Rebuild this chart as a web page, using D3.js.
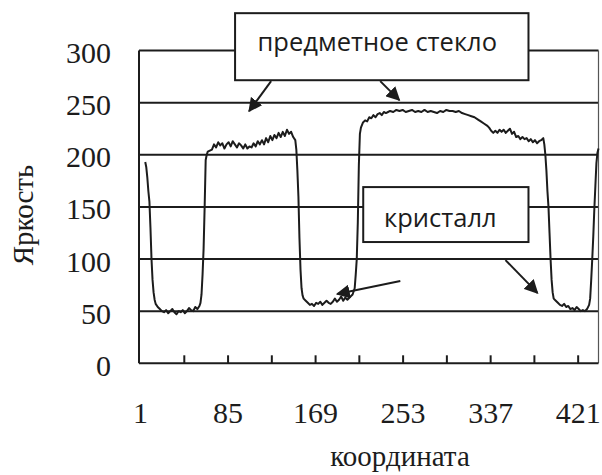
<!DOCTYPE html>
<html><head><meta charset="utf-8">
<script src="https://cdn.jsdelivr.net/npm/d3@7/dist/d3.min.js"></script>
<style>body{margin:0;background:#fff} svg{display:block}</style>
</head><body><svg id="c" width="602" height="475"></svg>
<script>
// ---- data ----
const coord = [
  6,7,8,9,10,11,12,13,14,15,16,18,
  20,22,24,26,28,30,32,34,36,38,40,42,44,46,48,50,52,54,56,58,
  59,60,61,62,63,64,65,66,
  68,70,72,74,76,78,80,82,84,86,88,90,92,94,96,98,100,102,104,106,108,110,112,114,116,118,120,122,124,126,128,130,132,134,136,138,140,142,144,146,148,150,151,
  152,153,154,155,156,157,158,
  160,162,164,166,168,170,172,174,176,178,180,182,184,186,188,190,192,194,196,198,200,203,205,207,
  208,209,210,211,212,213,215,
  217,219,221,223,225,227,229,231,233,235,237,239,241,244,247,250,253,256,259,262,265,268,271,274,277,280,283,286,289,292,295,298,
  301,304,307,310,313,316,319,322,325,328,331,334,336,338,340,342,344,346,348,350,352,354,356,358,360,362,364,366,368,370,372,374,376,378,380,382,384,386,388,389,
  390,391,392,393,394,395,396,397,398,
  400,402,404,406,408,410,412,414,416,418,420,422,424,426,428,430,432,
  433,434,435,436,437,438,439,440,441
];
const brightness = [
  193,188,178,165,155,130,100,80,68,61,57,54,
  52,50,49,51,48,50,52,49,47,50,49,51,48,50,53,51,50,54,52,55,
  58,66,85,110,150,195,200,203,
  204,205,210,207,212,209,211,206,210,212,208,213,210,207,211,209,206,210,206,208,207,211,208,213,210,214,210,216,212,218,214,219,216,221,217,222,218,224,220,222,217,214,205,
  185,160,120,90,72,65,62,
  60,58,56,57,55,58,57,59,56,58,60,58,57,59,62,59,61,64,60,63,61,64,66,72,
  85,100,135,190,220,226,231,
  233,232,236,235,238,236,239,240,238,241,240,241,242,241,243,242,243,241,242,243,241,242,241,243,241,242,241,240,242,241,243,242,
  242,241,242,240,239,238,237,236,234,232,230,228,226,223,221,223,221,224,222,224,221,223,225,220,222,217,218,215,217,215,216,213,215,212,214,211,213,214,216,210,
  200,185,165,150,125,100,80,68,62,
  60,58,56,55,57,54,55,52,53,51,54,52,50,51,50,52,56,
  62,80,100,122,148,170,192,202,206
];
const yTicks = [0, 50, 100, 150, 200, 250, 300];
const xLabelTicks = [1, 85, 169, 253, 337, 421];
const xMarkTicks = [43, 85, 127, 169, 211, 253, 295, 337, 379, 421];
const xTitle = "координата";
const yTitle = "Яркость";
// annotation boxes & arrows, in data units
const noteText = ["предметное стекло", "кристалл"];
const noteX0 = [92.2, 215.2], noteX1 = [373.8, 373.8];
const noteY0 = [335.8, 169], noteY1 = [271.5, 116.3];
const noteTextX = [228.7, 289.2], noteTextY = [299.6, 130.9];
const arrowFromX = [126.8, 231.5, 250.8, 351.7];
const arrowFromY = [270.6, 270.6, 78.9, 99];
const arrowToX = [105.7, 249.8, 190.2, 382.4];
const arrowToY = [241.8, 252.4, 66.4, 67.5];

// ---- drawing ----
const svg = d3.select("#c");
svg.append("rect").attr("width",602).attr("height",475).attr("fill","#fff");
const x = d3.scaleLinear().domain([0, 441]).range([139, 598.5]);
const y = d3.scaleLinear().domain([0, 300]).range([363.3, 50.5]);
const ink = "#1c1c1c";

svg.append("defs").append("marker")
  .attr("id","ah").attr("viewBox","0 0 10 10").attr("refX",9).attr("refY",5)
  .attr("markerWidth",7).attr("markerHeight",7).attr("markerUnits","strokeWidth")
  .attr("orient","auto")
  .append("path").attr("d","M0,0 L10,5 L0,10 Z").attr("fill",ink);

// gridlines
svg.append("g").selectAll("line").data(yTicks.filter(d=>d>0)).join("line")
  .attr("x1",x(0)).attr("x2",x(441)).attr("y1",d=>y(d)).attr("y2",d=>y(d))
  .attr("stroke",ink).attr("stroke-width",2);
// plot border (left, right)
svg.append("line").attr("x1",x(0)).attr("x2",x(0)).attr("y1",y(0)).attr("y2",y(300)).attr("stroke",ink).attr("stroke-width",2);
svg.append("line").attr("x1",x(441)).attr("x2",x(441)).attr("y1",y(0)).attr("y2",y(300)).attr("stroke","#555").attr("stroke-width",1.2);

// x axis: tick marks
const xm = svg.append("g").attr("transform",`translate(0,${y(0)})`)
  .call(d3.axisBottom(x).tickValues(xMarkTicks).tickSize(-8).tickFormat(""));
xm.select(".domain").attr("stroke",ink).attr("stroke-width",2).attr("d",`M${x(0)},0H${x(441)}`);
xm.selectAll(".tick line").attr("stroke",ink).attr("stroke-width",2);
// x axis: labels
const xl = svg.append("g").attr("transform",`translate(0,${y(0)})`)
  .call(d3.axisBottom(x).tickValues(xLabelTicks).tickSize(0).tickPadding(38).tickFormat(d3.format("d")));
xl.select(".domain").remove();
xl.selectAll("text").attr("font-family","'Liberation Serif', 'Times New Roman', serif").attr("font-size",30).attr("fill",ink);

// y axis labels
const yl = svg.append("g").attr("transform",`translate(${x(0)},0)`)
  .call(d3.axisLeft(y).tickValues(yTicks).tickSize(0).tickPadding(28));
yl.select(".domain").remove();
yl.selectAll("text").attr("font-family","'Liberation Serif', 'Times New Roman', serif").attr("font-size",30).attr("fill",ink).attr("dy","0.4em");

// titles
svg.append("text").attr("x",400).attr("y",466).attr("text-anchor","middle")
  .attr("font-family","'Liberation Serif', serif").attr("font-size",29).attr("fill",ink).text(xTitle);
svg.append("text").attr("transform","translate(33,215) rotate(-90)").attr("text-anchor","middle")
  .attr("font-family","'Liberation Serif', serif").attr("font-size",29).attr("fill",ink).text(yTitle);

// data line
const pts = coord.map((c,i)=>[c, brightness[i]]);
svg.append("path").datum(pts)
  .attr("d", d3.line().x(d=>x(d[0])).y(d=>y(d[1])))
  .attr("fill","none").attr("stroke",ink).attr("stroke-width",2).attr("stroke-linejoin","round");

// annotation boxes
noteText.forEach((t,i)=>{
  const x0=x(noteX0[i]), x1=x(noteX1[i]), y0=y(noteY0[i]), y1=y(noteY1[i]);
  svg.append("rect").attr("x",x0).attr("y",y0).attr("width",x1-x0).attr("height",y1-y0)
    .attr("fill","#fff").attr("stroke",ink).attr("stroke-width",2);
  svg.append("text").attr("x",x(noteTextX[i])).attr("y",y(noteTextY[i]))
    .attr("text-anchor","middle").attr("font-family","'Open Sans', sans-serif")
    .attr("font-size",25.5).attr("fill",ink).text(t);
});
// arrows
arrowFromX.forEach((fx,i)=>{
  svg.append("line").attr("x1",x(fx)).attr("y1",y(arrowFromY[i]))
    .attr("x2",x(arrowToX[i])).attr("y2",y(arrowToY[i]))
    .attr("stroke",ink).attr("stroke-width",2).attr("marker-end","url(#ah)");
});
</script></body></html>
